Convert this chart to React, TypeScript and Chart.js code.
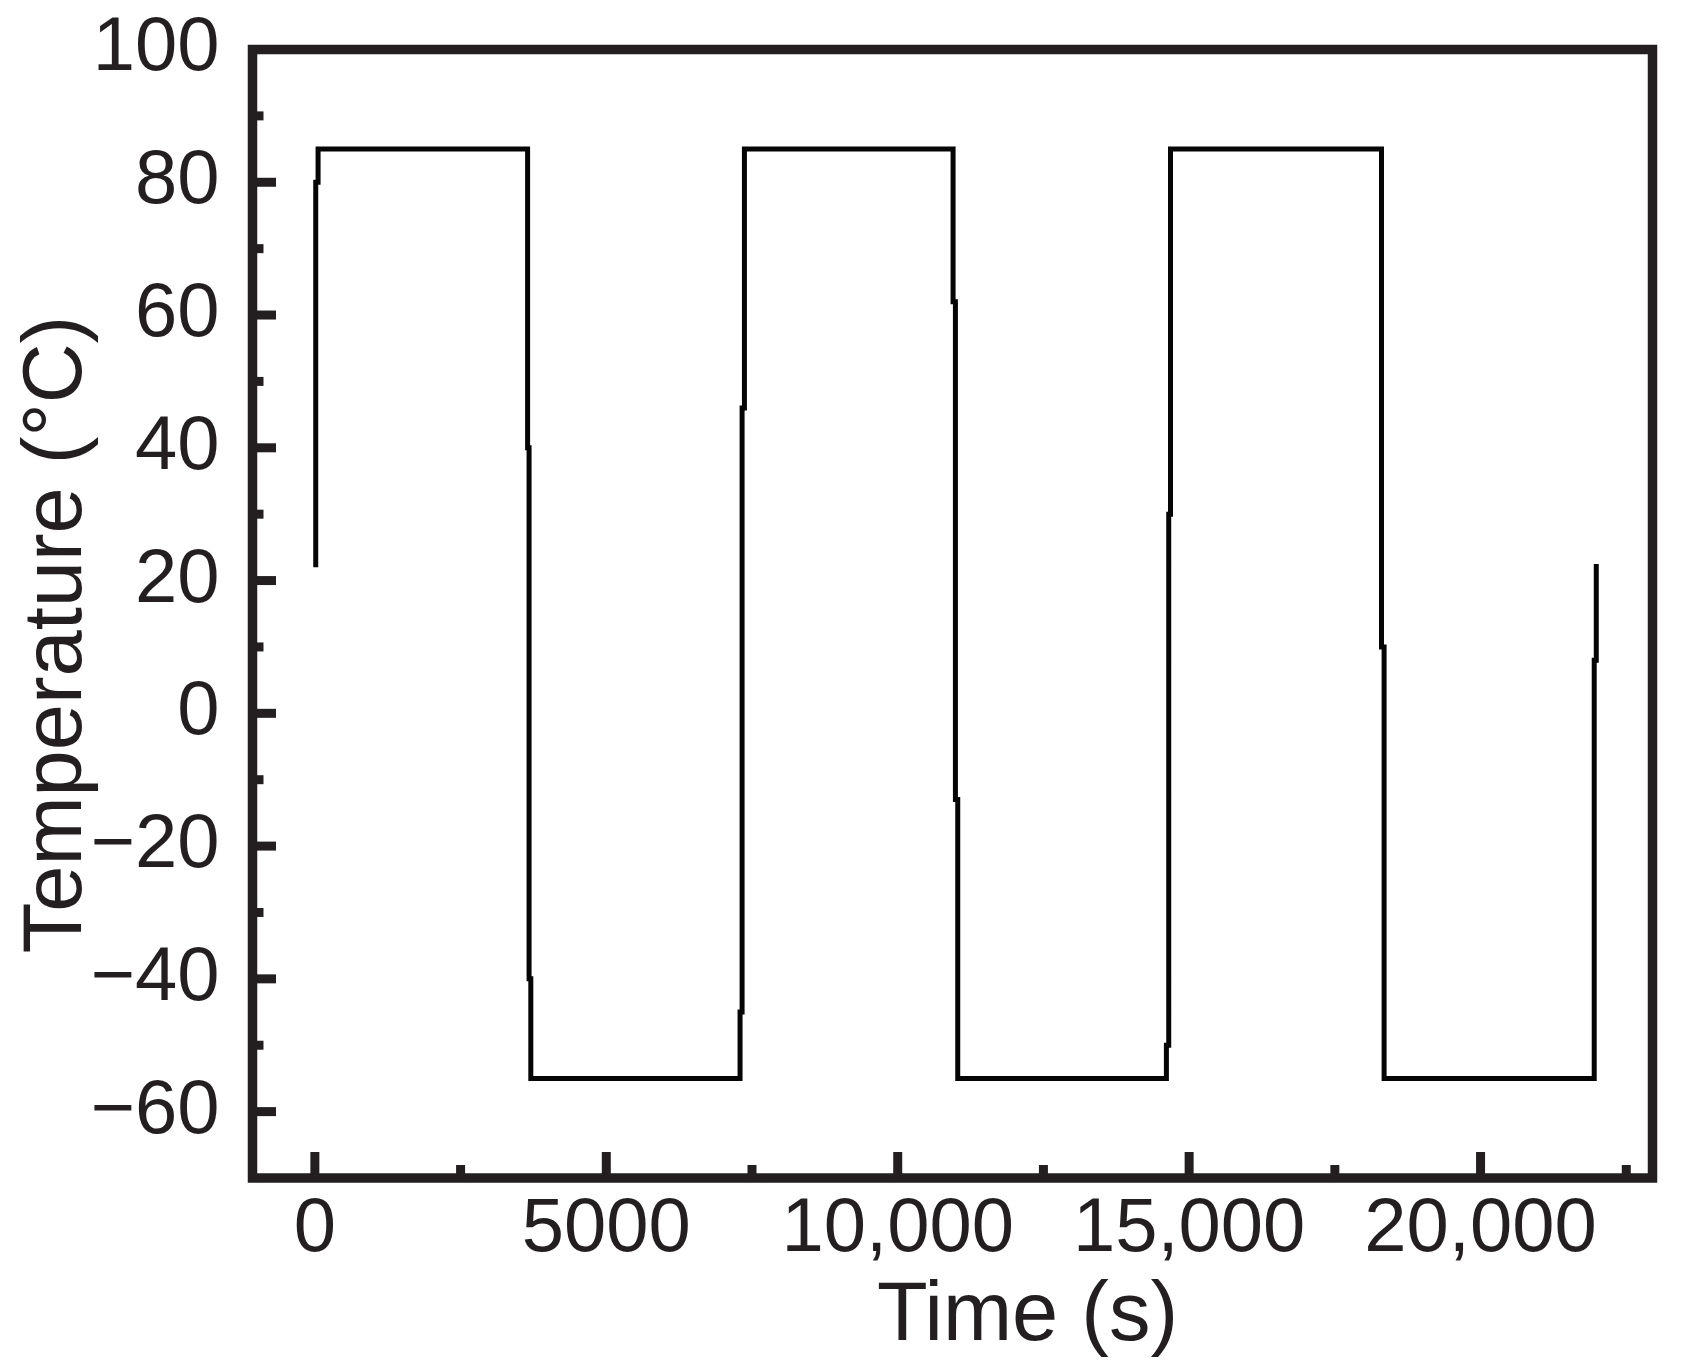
import { useEffect, useRef } from 'react';
import { Chart, registerables } from 'chart.js';

Chart.register(...registerables);

// ---- Data ----
const timeSeconds = [
  15, 15, 55, 55,
  3650, 3650, 3675, 3675, 3705, 3705,
  7295, 7295, 7330, 7330, 7370, 7370,
  10950, 10950, 10990, 10990, 11030, 11030,
  14610, 14610, 14650, 14650, 14680, 14680,
  18300, 18300, 18345, 18345,
  21950, 21950, 21985, 21985,
];
const temperatureC = [
  22, 80, 80, 85,
  85, 40, 40, -40, -40, -55,
  -55, -45, -45, 46, 46, 85,
  85, 62, 62, -13, -13, -55,
  -55, -50, -50, 30, 30, 85,
  85, 10, 10, -55,
  -55, 8, 8, 22.5,
];

const xMajorTicks = [0, 5000, 10000, 15000, 20000];
const xMajorLabels = ['0', '5000', '10,000', '15,000', '20,000'];
const xMinorTicks = [2500, 7500, 12500, 17500, 22500];
const yMajorTicks = [-60, -40, -20, 0, 20, 40, 60, 80, 100];
const yMajorLabels = ['\u221260', '\u221240', '\u221220', '0', '20', '40', '60', '80', '100'];
const yMinorTicks = [-50, -30, -10, 10, 30, 50, 70, 90];

const xTitle = 'Time (s)';
const yTitle = 'Temperature (\u00B0C)';

const INK = '#231f20';
const FONT_FAMILY = '"Liberation Sans", Arial, Helvetica, sans-serif';

const frameTicksPlugin = {
  id: 'frameTicks',
  afterDraw(chart: any) {
    const { ctx, chartArea: a, scales } = chart;
    const xs = scales.x;
    const ys = scales.y;
    ctx.save();
    ctx.strokeStyle = INK;
    ctx.lineCap = 'butt';
    ctx.lineWidth = 9;
    const seg = (x1: number, y1: number, x2: number, y2: number) => {
      ctx.beginPath();
      ctx.moveTo(x1, y1);
      ctx.lineTo(x2, y2);
      ctx.stroke();
    };
    xMajorTicks.forEach((v) => {
      const px = xs.getPixelForValue(v);
      if (px <= a.left + 2 || px >= a.right - 2) return;
      seg(px, a.bottom, px, a.bottom - 26);
    });
    xMinorTicks.forEach((v) => {
      const px = xs.getPixelForValue(v);
      if (px <= a.left + 2 || px >= a.right - 2) return;
      seg(px, a.bottom, px, a.bottom - 13);
    });
    yMajorTicks.forEach((v) => {
      const py = ys.getPixelForValue(v);
      if (py <= a.top + 2 || py >= a.bottom - 2) return;
      seg(a.left, py, a.left + 23.5, py);
    });
    yMinorTicks.forEach((v) => {
      const py = ys.getPixelForValue(v);
      if (py <= a.top + 2 || py >= a.bottom - 2) return;
      seg(a.left, py, a.left + 11, py);
    });

    ctx.lineWidth = 9.5;
    ctx.lineJoin = 'miter';
    ctx.strokeRect(a.left, a.top, a.right - a.left, a.bottom - a.top);

    ctx.fillStyle = INK;
    ctx.font = `83px ${FONT_FAMILY}`;
    ctx.textAlign = 'center';
    ctx.textBaseline = 'alphabetic';
    ctx.fillText(xTitle, a.left + 775, a.bottom + 162);
    ctx.translate(81, a.top + 585);
    ctx.rotate(-Math.PI / 2);
    ctx.fillText(yTitle, 0, 0);
    ctx.restore();
  },
};

export default function App() {
  const canvasRef = useRef<HTMLCanvasElement | null>(null);

  useEffect(() => {
    const canvas = canvasRef.current;
    if (!canvas) return;
    const points = timeSeconds.map((t, i) => ({ x: t, y: temperatureC[i] }));
    const chart = new Chart(canvas, {
      type: 'line',
      data: {
        datasets: [
          {
            data: points,
            borderColor: '#050505',
            borderWidth: 5,
            pointRadius: 0,
            tension: 0,
            fill: false,
            borderJoinStyle: 'miter',
            borderCapStyle: 'butt',
          },
        ],
      },
      options: {
        responsive: false,
        devicePixelRatio: 1,
        animation: false,
        events: [],
        layout: { padding: { top: 49.5, right: 28.5, left: 0, bottom: 0 } },
        plugins: {
          legend: { display: false },
          tooltip: { enabled: false },
          title: { display: false },
        },
        scales: {
          x: {
            type: 'linear',
            min: -1070,
            max: 22950,
            grid: { display: false, drawTicks: false, drawOnChartArea: false },
            border: { display: false },
            afterBuildTicks: (scale: any) => {
              scale.ticks = xMajorTicks.map((v) => ({ value: v }));
            },
            afterFit: (scale: any) => {
              scale.height = 194;
              scale.paddingLeft = 0;
              scale.paddingRight = 0;
            },
            ticks: {
              autoSkip: false,
              maxRotation: 0,
              minRotation: 0,
              padding: 6,
              color: INK,
              font: { family: FONT_FAMILY, size: 76, lineHeight: 1.2 },
              callback: (_v: any, i: number) => xMajorLabels[i],
            },
          },
          y: {
            type: 'linear',
            min: -70,
            max: 100,
            grid: { display: false, drawTicks: false, drawOnChartArea: false },
            border: { display: false },
            afterBuildTicks: (scale: any) => {
              scale.ticks = yMajorTicks.map((v) => ({ value: v }));
            },
            afterFit: (scale: any) => {
              scale.width = 252.5;
              scale.paddingTop = 0;
              scale.paddingBottom = 0;
            },
            ticks: {
              autoSkip: false,
              padding: 33,
              color: INK,
              font: { family: FONT_FAMILY, size: 76, lineHeight: 1.2 },
              callback: (_v: any, i: number) => yMajorLabels[i],
            },
          },
        },
      },
      plugins: [frameTicksPlugin],
    } as any);
    return () => chart.destroy();
  }, []);

  return (
    <div style={{ position: 'absolute', left: 0, top: 0, width: 1681, height: 1372, background: '#fff' }}>
      <canvas ref={canvasRef} width={1681} height={1372} style={{ width: 1681, height: 1372, display: 'block' }} />
    </div>
  );
}
